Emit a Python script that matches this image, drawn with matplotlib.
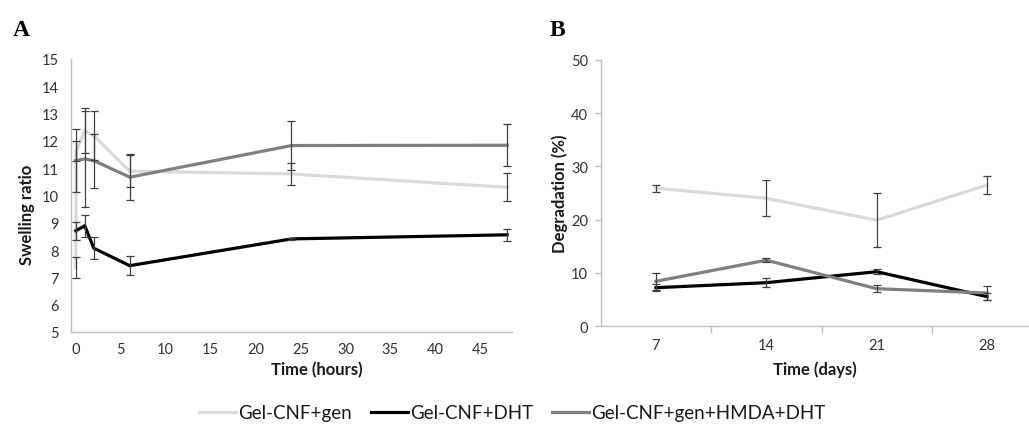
import matplotlib
matplotlib.use("Agg")
import matplotlib.pyplot as plt
from matplotlib.ticker import FixedLocator, NullFormatter

plt.rcParams['font.family'] = ['Lato', 'DejaVu Sans']

# ---- Panel A: swelling ratio over time (hours) ----
series_names = ["Gel-CNF+gen", "Gel-CNF+DHT", "Gel-CNF+gen+HMDA+DHT"]

gen_hours = [0, 0.05, 1, 2, 6, 24, 48]
gen_swell = [7.35, 11.63, 12.37, 12.19, 10.89, 10.79, 10.30]
gen_swell_err = [0.38, 0.35, 0.82, 0.90, 0.58, 0.40, 0.51]

dht_hours = [0, 1, 2, 6, 24, 48]
dht_swell = [8.71, 8.89, 8.07, 7.43, 8.41, 8.56]
dht_swell_err = [0.33, 0.41, 0.40, 0.34, 0.05, 0.23]

hmda_hours = [0, 1, 2, 6, 24, 48]
hmda_swell = [11.28, 11.34, 11.28, 10.67, 11.83, 11.84]
hmda_swell_err = [1.16, 1.77, 0.99, 0.85, 0.90, 0.77]

hour_ticks = [0, 5, 10, 15, 20, 25, 30, 35, 40, 45]
swell_ticks = [5, 6, 7, 8, 9, 10, 11, 12, 13, 14, 15]

# ---- Panel B: degradation over time (days) ----
day_labels = ["7", "14", "21", "28"]
gen_degr = [25.9, 24.0, 19.9, 26.5]
gen_degr_err = [0.65, 3.35, 5.1, 1.75]
dht_degr = [7.24, 8.18, 10.24, 5.56]
dht_degr_err = [0.7, 0.8, 0.5, 0.6]
hmda_degr = [8.44, 12.4, 7.05, 6.25]
hmda_degr_err = [1.55, 0.4, 0.65, 1.25]
degr_ticks = [0, 10, 20, 30, 40, 50]

colors = ["#d9d9d9", "#000000", "#808080"]
line_w = 2.3
err_kw = dict(ecolor="#404040", elinewidth=0.9, capsize=3.2, capthick=0.9)
spine_col = "#bfbfbf"
tick_col = "#333333"
tick_fs = 10.5

W, H = 1029, 431
fig = plt.figure(figsize=(W / 100, H / 100), dpi=100)


def px_axes(x0, y0, x1, y1):
    return fig.add_axes([x0 / W, 1 - y1 / H, (x1 - x0) / W, (y1 - y0) / H])


# Panel A
axA = px_axes(71.3, 60, 511.7, 333)
for t, v, e, c, n in [(gen_hours, gen_swell, gen_swell_err, colors[0], series_names[0]),
                      (dht_hours, dht_swell, dht_swell_err, colors[1], series_names[1]),
                      (hmda_hours, hmda_swell, hmda_swell_err, colors[2], series_names[2])]:
    axA.errorbar(t, v, yerr=e, fmt="none", zorder=3, **err_kw)
    axA.plot(t, v, color=c, lw=line_w, label=n, zorder=2, solid_joinstyle="miter")
axA.set_xlim(-0.5, 48.5)
axA.set_ylim(5, 15)
axA.set_xticks(hour_ticks)
axA.set_yticks(swell_ticks)
axA.tick_params(axis="both", length=0, labelsize=tick_fs, colors=tick_col)
axA.tick_params(axis="x", pad=7)
axA.tick_params(axis="y", pad=9)
for s in ["top", "right"]:
    axA.spines[s].set_visible(False)
for s in ["left", "bottom"]:
    axA.spines[s].set_color(spine_col)
    axA.spines[s].set_linewidth(1.0)

# Panel B
axB = px_axes(600.7, 60.7, 600.7 + 4 * 110.4, 327.3)
pos = list(range(len(day_labels)))
for v, e, c in [(gen_degr, gen_degr_err, colors[0]),
                (dht_degr, dht_degr_err, colors[1]),
                (hmda_degr, hmda_degr_err, colors[2])]:
    axB.errorbar(pos, v, yerr=e, fmt="none", zorder=3, **err_kw)
    axB.plot(pos, v, color=c, lw=line_w, zorder=2)
axB.set_xlim(-0.5, len(day_labels) - 0.5)
axB.set_ylim(0, 50)
axB.set_xticks(pos)
axB.set_xticklabels(day_labels)
axB.xaxis.set_minor_locator(FixedLocator([p + 0.5 for p in pos]))
axB.xaxis.set_minor_formatter(NullFormatter())
axB.set_yticks(degr_ticks)
axB.tick_params(axis="x", which="major", length=0, pad=8.5, labelsize=tick_fs, colors=tick_col)
axB.tick_params(axis="x", which="minor", length=5, width=1.0, color=spine_col, direction="out")
axB.tick_params(axis="y", length=4, width=1.0, color=spine_col, direction="out",
                pad=5, labelsize=tick_fs, labelcolor=tick_col)
for s in ["top", "right"]:
    axB.spines[s].set_visible(False)
for s in ["left", "bottom"]:
    axB.spines[s].set_color(spine_col)
    axB.spines[s].set_linewidth(1.0)

# Axis titles
lab_kw = dict(fontsize=12, fontweight="bold", color="#1a1a1a", ha="center", va="center")
fig.text(27 / W, 1 - 215 / H, "Swelling ratio", rotation=90, **lab_kw)
fig.text(317 / W, 1 - 370 / H, "Time (hours)", **lab_kw)
fig.text(560 / W, 1 - 194 / H, "Degradation (%)", rotation=90, **lab_kw)
fig.text(815 / W, 1 - 370 / H, "Time (days)", **lab_kw)

# Panel letters
pan_kw = dict(fontsize=17, fontweight="bold", family="Liberation Serif", ha="left", va="baseline")
fig.text(12.5 / W, 1 - 36 / H, "A", **pan_kw)
fig.text(550 / W, 1 - 36.5 / H, "B", **pan_kw)

# Shared legend
handles, labels = axA.get_legend_handles_labels()
fig.legend(handles, labels, loc="center", bbox_to_anchor=(512 / W, 1 - 414 / H), ncol=3,
           frameon=False, fontsize=13.5, handlelength=2.0, handletextpad=0.1,
           columnspacing=1.0, labelcolor="#1a1a1a")

fig.savefig("out.png", dpi=100)
